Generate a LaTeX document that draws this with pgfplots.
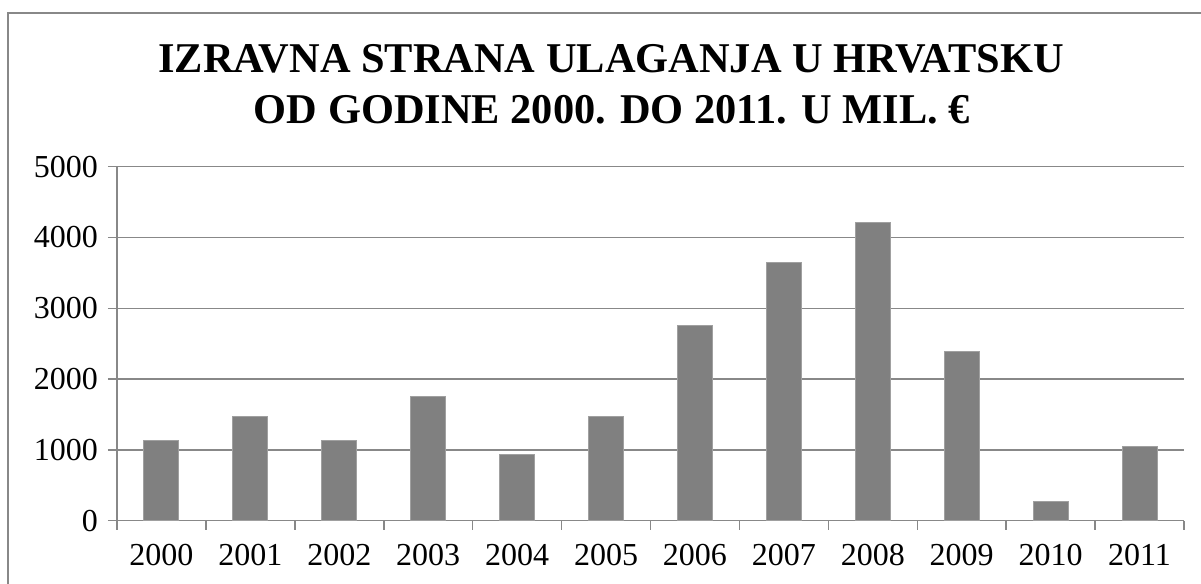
\documentclass[border=0pt]{standalone}
\usepackage{pgfplots}
\pgfplotsset{compat=1.18}
\usepackage{fontspec}
\setmainfont{Liberation Serif}
\definecolor{barfill}{HTML}{808080}
\definecolor{barline}{HTML}{A0A0A0}
\definecolor{gridc}{HTML}{888888}
\begin{document}
\begin{tikzpicture}[x=0.5pt,y=0.5pt]
\useasboundingbox (0,0) rectangle (1201,584);
\begin{scope}
\clip (0,0) rectangle (1201,584);
\draw[color=gridc, line width=1pt] (8,-30) -- (8,571) -- (1240,571);
\end{scope}
\node[anchor=base, inner sep=0pt, font=\fontsize{21.2}{25}\selectfont\bfseries] at (611,511.3) {IZRAVNA STRANA ULAGANJA U HRVATSKU};
\node[anchor=base, inner sep=0pt, font=\fontsize{21.2}{25}\selectfont\bfseries] at (612,460.7) {OD GODINE 2000. DO 2011. U MIL. €};
\begin{axis}[
  at={(58.5pt,31.65pt)}, anchor=south west,
  scale only axis, width=533.5pt, height=177pt,
  xmin=-0.5, xmax=11.5, ymin=0, ymax=5000,
  axis lines*=left,
  axis line style={color=gridc, line width=0.75pt},
  ytick={0,1000,...,5000},
  ymajorgrids, grid style={color=gridc, line width=0.75pt},
  xtick={0,...,11},
  xticklabels={2000,2001,2002,2003,2004,2005,2006,2007,2008,2009,2010,2011},
  minor xtick={-0.5,0.5,...,11.5},
  x tick style={draw=none},
  minor x tick style={draw=gridc, line width=0.75pt},
  y tick style={draw=gridc, line width=0.75pt},
  tick align=outside,
  major tick length=4.5pt, minor tick length=4.5pt,
  ticklabel style={font=\fontsize{16}{19}\selectfont},
  /pgf/number format/assume math mode=true,
  /pgf/number format/1000 sep={},
  yticklabel style={xshift=-1.5pt},
  xticklabel style={yshift=-3.8pt},
  clip=false,
]
\addplot[ybar, bar width=17.5pt, fill=barfill, draw=barline, line width=0.5pt] coordinates {
(0,1130) (1,1465) (2,1130) (3,1757) (4,942) (5,1465) (6,2760) (7,3644) (8,4219) (9,2383) (10,274) (11,1041)
};
\end{axis}
\end{tikzpicture}
\end{document}
